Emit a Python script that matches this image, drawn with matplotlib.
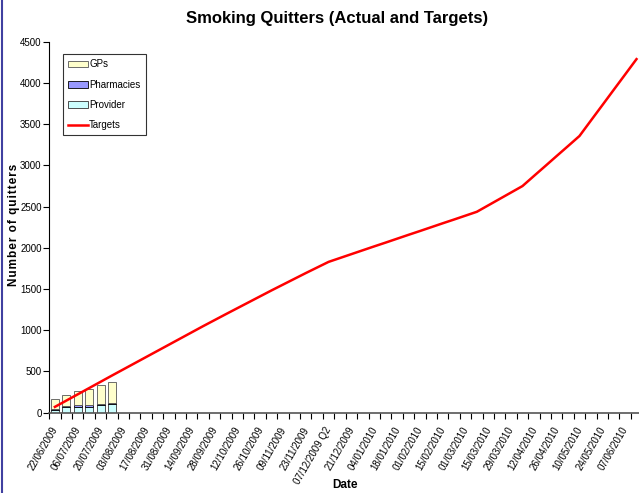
import numpy as np
import pandas as pd
import matplotlib
matplotlib.use("Agg")
import matplotlib.pyplot as plt
import matplotlib.transforms as mtransforms
from matplotlib.lines import Line2D

plt.rcParams['font.family'] = ['Liberation Sans', 'DejaVu Sans']

# weekly categories
weeks = pd.date_range('2009-06-22', periods=52, freq='7D')
cat_labels = [d.strftime('%d/%m/%Y') for d in weeks]
cat_labels[24] = '07/12/2009 Q2'

# actuals (first six weeks only)
provider = [30, 66, 73, 73, 90, 106]
pharmacies = [20, 16, 17, 17, 20, 16]
gps = [121, 134, 171, 195, 220, 248]

# targets
targets = [70, 146, 222, 298, 374, 450, 525, 600, 675, 750,
           825, 900, 975, 1050, 1123, 1196, 1268, 1340, 1412, 1484,
           1554, 1624, 1694, 1762, 1830, 1877, 1924, 1971, 2018, 2064,
           2111, 2158, 2204, 2251, 2298, 2344, 2391, 2438, 2516, 2594,
           2672, 2750, 2872, 2993, 3115, 3236, 3358, 3545, 3731, 3918,
           4104, 4291]

fig = plt.figure(figsize=(6.39, 4.93), dpi=100)
ax = fig.add_axes([0.077, 0.163, 0.928, 0.752])

x = np.arange(len(cat_labels))
xb = np.arange(len(gps))
w = 0.7
ax.bar(xb, provider, w, color='#CCFFFF', edgecolor='#333333', linewidth=0.6, label='Provider')
ax.bar(xb, pharmacies, w, bottom=provider, color='#9999FF', edgecolor='#000000',
       linewidth=0.6, label='Pharmacies')
bot2 = np.array(provider) + np.array(pharmacies)
ax.bar(xb, gps, w, bottom=bot2, color='#FFFFCC', edgecolor='#555555', linewidth=0.6, label='GPs')
ax.plot(x, targets, color='#FF0000', linewidth=1.8, label='Targets')

ax.set_xlim(-0.5, len(cat_labels) - 0.5)
ax.set_ylim(0, 4500)
ax.set_yticks(np.arange(0, 4501, 500))
ax.set_xticks(np.arange(-0.5, len(cat_labels), 1), minor=True)
ax.set_xticks(x[::2])
ax.set_xticklabels(cat_labels[::2], rotation=60, ha='right', fontsize=7)
ax.tick_params(axis='x', which='major', length=0, pad=4)
ax.tick_params(axis='x', which='minor', length=4, width=0.8)
ax.tick_params(axis='y', labelsize=7, length=4, width=0.8, pad=1.5)

# nudge the slanted date labels like Excel does
shift = mtransforms.ScaledTranslation(5 / 100, -7 / 100, fig.dpi_scale_trans)
for lab in ax.get_xticklabels():
    lab.set_transform(lab.get_transform() + shift)

for s in ['top', 'right']:
    ax.spines[s].set_visible(False)
ax.spines['left'].set_linewidth(0.8)
ax.spines['bottom'].set_color('#555555')
ax.spines['bottom'].set_linewidth(1.2)

ax.set_ylabel('\u200a'.join('Number of quitters'), fontsize=8.5, fontweight='bold')
ax.yaxis.set_label_coords(-0.049, 0.507)
ax.set_xlabel('Date', fontsize=8.5, fontweight='bold')
ax.xaxis.set_label_coords(0.499, -0.178)
fig.text(0.528, 0.962, 'Smoking Quitters (Actual and Targets)', ha='center', va='center',
         fontsize=12, fontweight='bold')

h, l = ax.get_legend_handles_labels()
order = [l.index('GPs'), l.index('Pharmacies'), l.index('Provider'), l.index('Targets')]
leg = ax.legend([h[i] for i in order], [l[i] for i in order], loc='upper left',
                bbox_to_anchor=(0.023, 0.967), fontsize=7, frameon=True, fancybox=False,
                edgecolor='black', handlelength=2.0, handletextpad=0.15, labelspacing=1.05,
                borderpad=0.55, borderaxespad=0)
leg.get_frame().set_linewidth(0.8)

fig.add_artist(Line2D([0.003, 0.003], [0, 1], transform=fig.transFigure, color='#4040A0',
                      linewidth=1.5))

fig.savefig('out.png', dpi=100)
